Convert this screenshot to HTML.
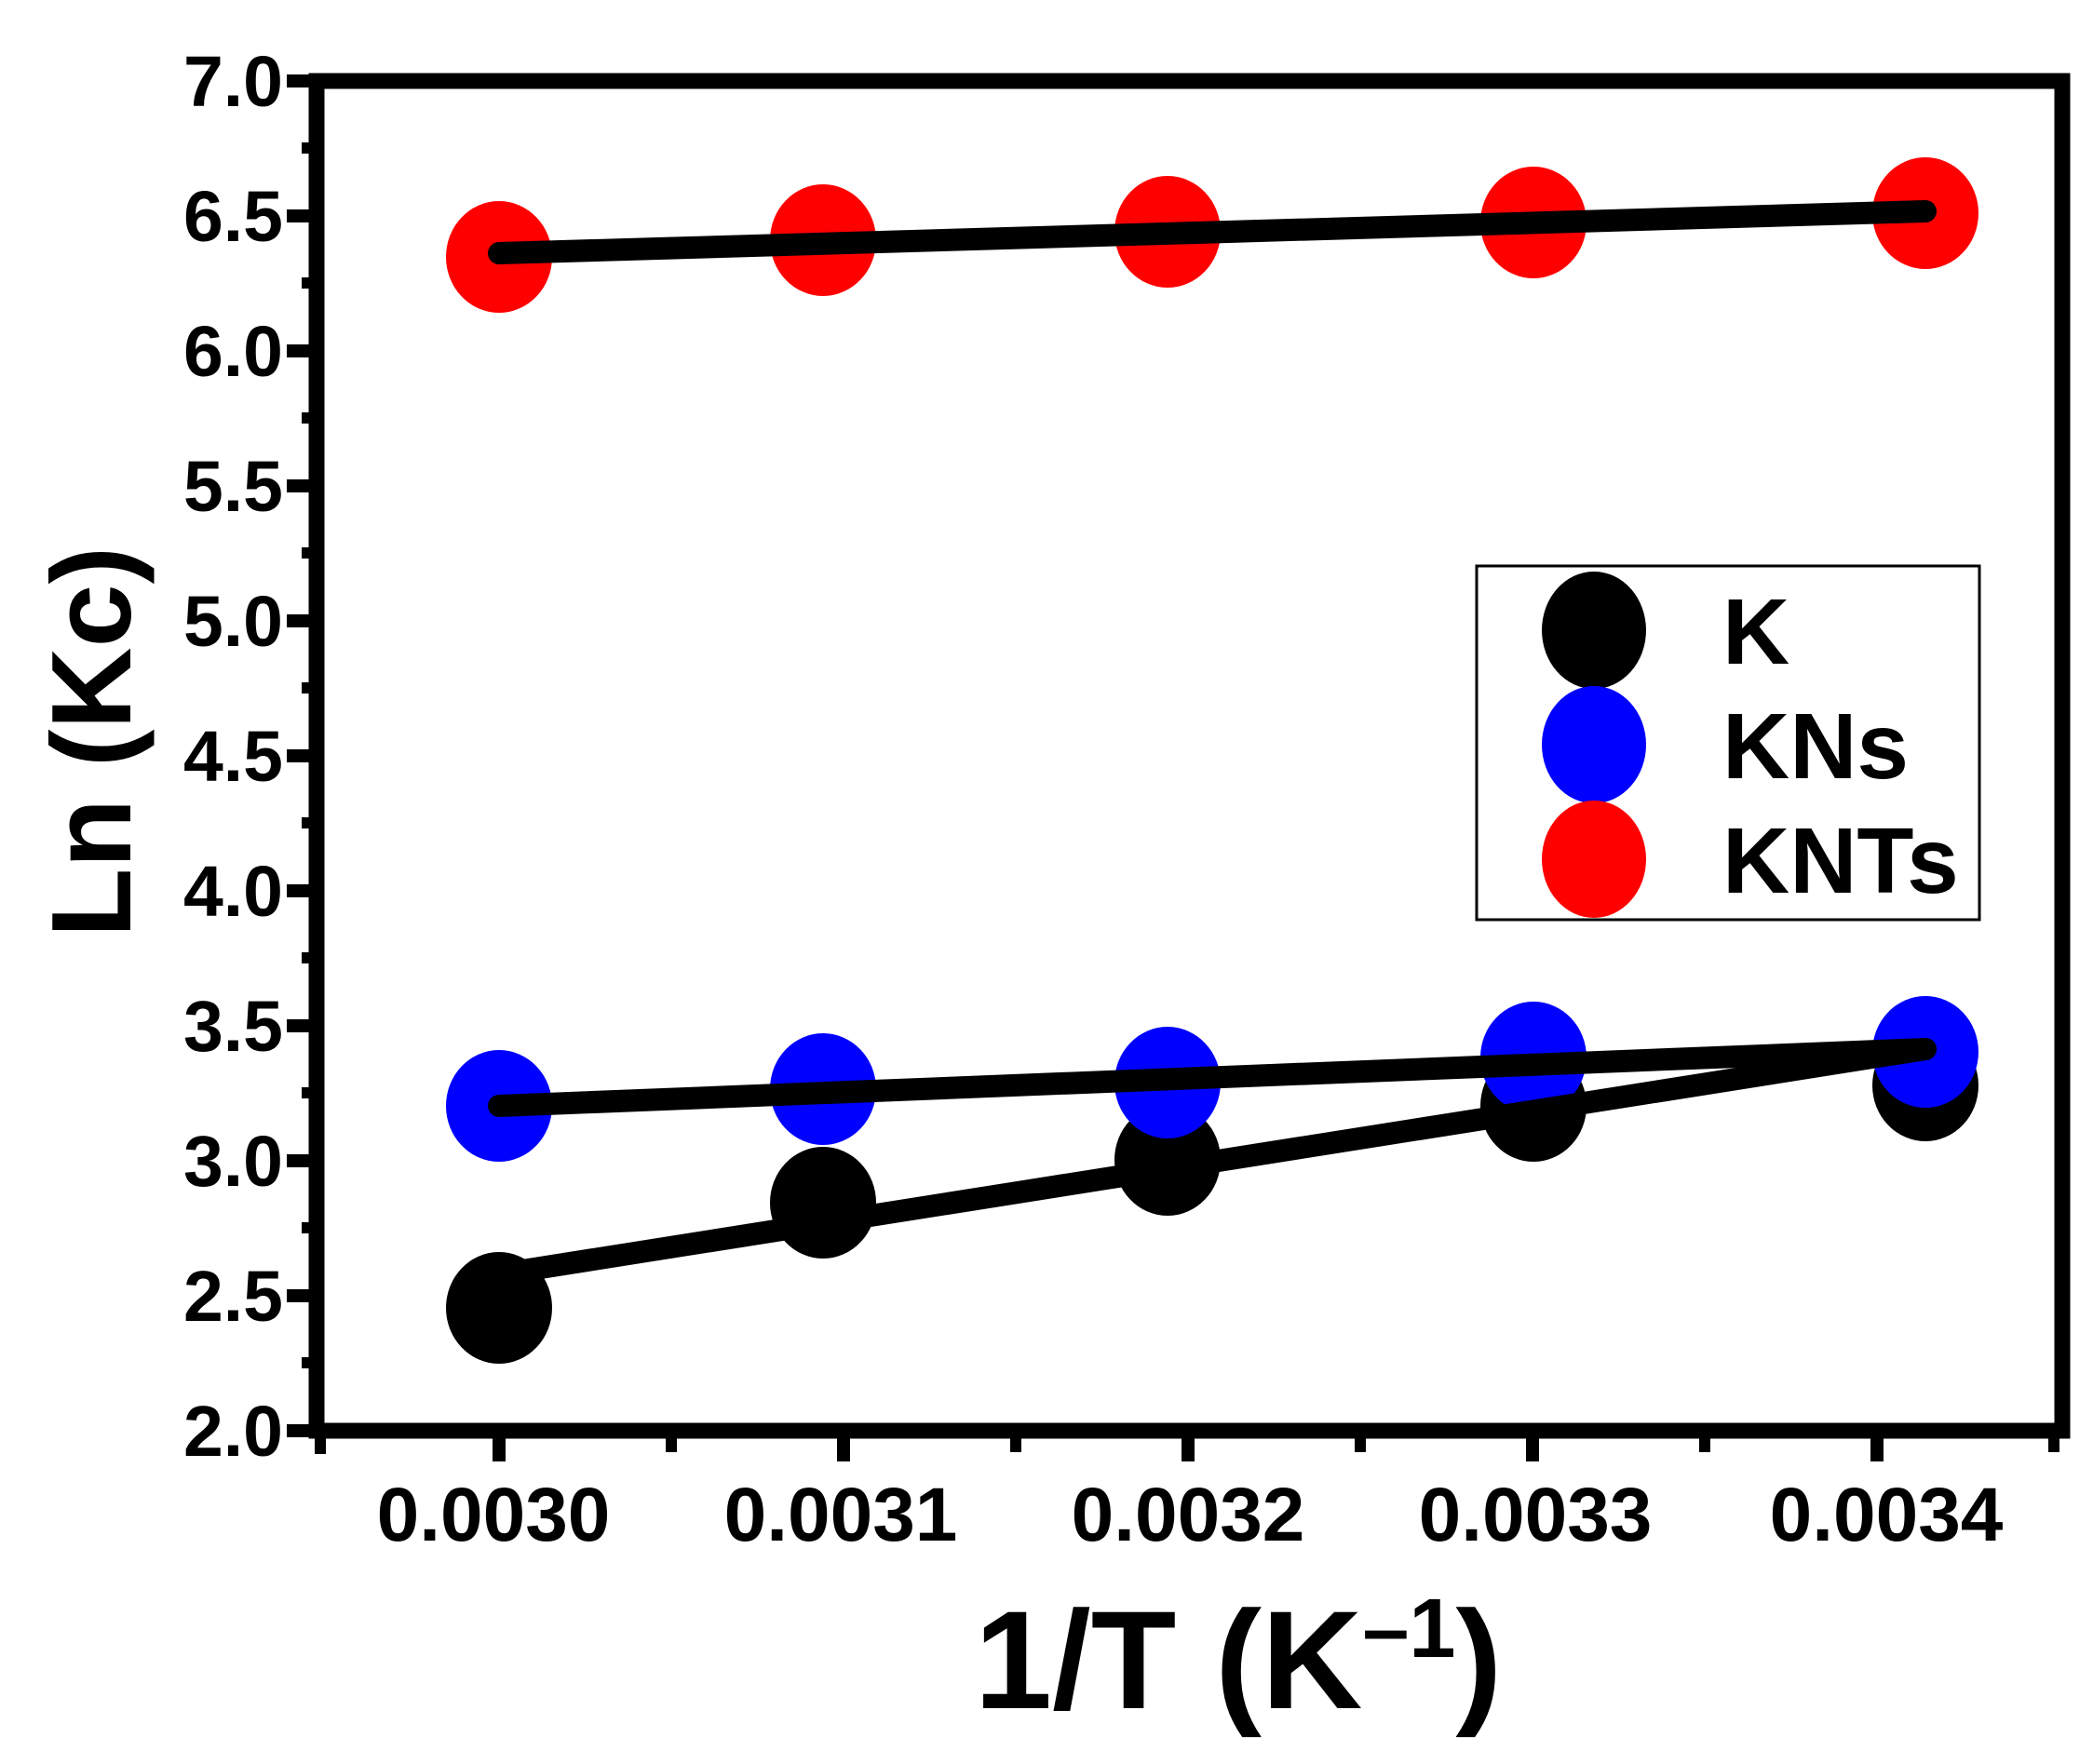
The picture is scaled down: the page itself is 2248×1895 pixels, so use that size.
<!DOCTYPE html>
<html><head><meta charset="utf-8"><style>
html,body{margin:0;padding:0;background:#fff;}
svg{display:block;}
text{font-family:"Liberation Sans",Arial,sans-serif;font-weight:bold;fill:#000;}
</style></head><body>
<svg width="2248" height="1895" viewBox="0 0 2248 1895" xmlns="http://www.w3.org/2000/svg">
<rect width="2248" height="1895" fill="#fff"/>
<g stroke="#000" stroke-width="14">
<line x1="308" y1="87" x2="340" y2="87"/><line x1="308" y1="232" x2="340" y2="232"/><line x1="308" y1="377" x2="340" y2="377"/><line x1="308" y1="522" x2="340" y2="522"/><line x1="308" y1="667" x2="340" y2="667"/><line x1="308" y1="812" x2="340" y2="812"/><line x1="308" y1="957" x2="340" y2="957"/><line x1="308" y1="1102" x2="340" y2="1102"/><line x1="308" y1="1247" x2="340" y2="1247"/><line x1="308" y1="1392" x2="340" y2="1392"/><line x1="308" y1="1537" x2="340" y2="1537"/>
</g>
<g stroke="#000" stroke-width="12">
<line x1="324" y1="159" x2="340" y2="159"/><line x1="324" y1="304" x2="340" y2="304"/><line x1="324" y1="449" x2="340" y2="449"/><line x1="324" y1="594" x2="340" y2="594"/><line x1="324" y1="739" x2="340" y2="739"/><line x1="324" y1="884" x2="340" y2="884"/><line x1="324" y1="1029" x2="340" y2="1029"/><line x1="324" y1="1174" x2="340" y2="1174"/><line x1="324" y1="1319" x2="340" y2="1319"/><line x1="324" y1="1464" x2="340" y2="1464"/>
</g>
<g stroke="#000" stroke-width="14">
<line x1="536" y1="1537" x2="536" y2="1570"/><line x1="906" y1="1537" x2="906" y2="1570"/><line x1="1276" y1="1537" x2="1276" y2="1570"/><line x1="1646" y1="1537" x2="1646" y2="1570"/><line x1="2016" y1="1537" x2="2016" y2="1570"/>
</g>
<g stroke="#000" stroke-width="12">
<line x1="344" y1="1537" x2="344" y2="1562"/><line x1="721" y1="1537" x2="721" y2="1560"/><line x1="1091" y1="1537" x2="1091" y2="1560"/><line x1="1461" y1="1537" x2="1461" y2="1560"/><line x1="1831" y1="1537" x2="1831" y2="1560"/><line x1="2206" y1="1537" x2="2206" y2="1560"/>
</g>
<rect x="340" y="87" width="1875" height="1450" fill="none" stroke="#000" stroke-width="17"/>
<g font-size="77" text-anchor="end">
<text x="304" y="114">7.0</text><text x="304" y="259">6.5</text><text x="304" y="404">6.0</text><text x="304" y="549">5.5</text><text x="304" y="694">5.0</text><text x="304" y="839">4.5</text><text x="304" y="984">4.0</text><text x="304" y="1129">3.5</text><text x="304" y="1274">3.0</text><text x="304" y="1419">2.5</text><text x="304" y="1564">2.0</text>
</g>
<g font-size="82" text-anchor="middle">
<text x="530" y="1655">0.0030</text><text x="903" y="1655">0.0031</text><text x="1276" y="1655">0.0032</text><text x="1649" y="1655">0.0033</text><text x="2026" y="1655">0.0034</text>
</g>
<text x="1330" y="1835" font-size="150" text-anchor="middle">1/T (K<tspan font-size="90" dy="-55">–1</tspan><tspan dy="55">)</tspan></text>
<text transform="translate(140,797) rotate(-90)" font-size="122" text-anchor="middle">Ln (Kc)</text>
<g fill="#ff0000">
<ellipse cx="536" cy="276" rx="57" ry="60"/><ellipse cx="884" cy="258" rx="57" ry="60"/><ellipse cx="1254" cy="249" rx="57" ry="60"/><ellipse cx="1647" cy="239" rx="57" ry="60"/><ellipse cx="2068" cy="229" rx="57" ry="60"/>
</g>
<g fill="#000">
<ellipse cx="536" cy="1405" rx="57" ry="60"/><ellipse cx="884" cy="1292" rx="57" ry="60"/><ellipse cx="1254" cy="1246" rx="57" ry="60"/><ellipse cx="1647" cy="1188" rx="57" ry="60"/><ellipse cx="2068" cy="1166" rx="57" ry="60"/>
</g>
<g fill="#0000ff">
<ellipse cx="536" cy="1188" rx="57" ry="60"/><ellipse cx="884" cy="1170" rx="57" ry="60"/><ellipse cx="1254" cy="1163" rx="57" ry="60"/><ellipse cx="1647" cy="1136" rx="57" ry="60"/><ellipse cx="2068" cy="1130" rx="57" ry="60"/>
</g>
<g stroke="#000" stroke-width="24" stroke-linecap="round">
<line x1="536" y1="272" x2="2068" y2="227"/>
<line x1="536" y1="1188" x2="2068" y2="1127"/>
<line x1="536" y1="1369" x2="2068" y2="1127"/>
</g>
<rect x="1586" y="608" width="540" height="380" fill="#fff" stroke="#000" stroke-width="3"/>
<ellipse cx="1712" cy="677" rx="56" ry="63" fill="#000"/>
<ellipse cx="1712" cy="800" rx="56" ry="63" fill="#0000ff"/>
<ellipse cx="1712" cy="923" rx="56" ry="63" fill="#ff0000"/>
<g font-size="100">
<text x="1850" y="713">K</text><text x="1850" y="836">KNs</text><text x="1850" y="959">KNTs</text>
</g>
</svg>
</body></html>
